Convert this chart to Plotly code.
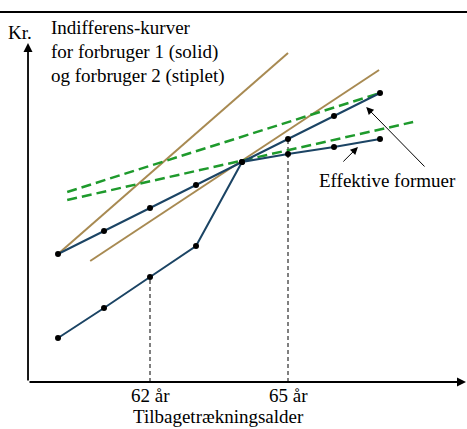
import plotly.graph_objects as go

# Data
ages = [60, 61, 62, 63, 64, 65, 66, 67]
forbruger1 = [12.8, 15.1, 17.4, 19.7, 22.0, 24.3, 26.6, 28.9]
forbruger2 = [4.4, 7.4, 10.5, 13.6, 22.0, 22.8, 23.5, 24.3]

# Indifference curves (solid, consumer 1)
indiff1_a_x = [60, 65]
indiff1_a_y = [12.8, 32.9]
indiff1_b_x = [60.7, 66.98]
indiff1_b_y = [12.1, 31.2]
# Indifference curves (dashed, consumer 2)
indiff2_a_x = [60.2, 67]
indiff2_a_y = [19.0, 28.9]
indiff2_b_x = [60.2, 67.72]
indiff2_b_y = [18.2, 26.0]

tick_ages = [62, 65]
tick_labels = ["62 år", "65 år"]
drop_values = [10.5, 24.3]

NAVY = "#1b4464"
TAN = "#a88a52"
GREEN = "#1e9a2c"
FONT = "Liberation Serif, Times New Roman, serif"

XMIN, XMAX = 58.739, 68.891
YMIN, YMAX = -4.7, 38.2
X0 = 59.348  # y-axis position
Y0 = 0.0     # x-axis position

fig = go.Figure()

# vertical dashed drop lines
for a, v in zip(tick_ages, drop_values):
    fig.add_trace(go.Scatter(x=[a, a], y=[Y0, v], mode="lines",
                             line=dict(color="black", width=1, dash="4px,3px"),
                             hoverinfo="skip", showlegend=False))

fig.add_trace(go.Scatter(x=indiff1_a_x, y=indiff1_a_y, mode="lines",
                         line=dict(color=TAN, width=2), showlegend=False))
fig.add_trace(go.Scatter(x=indiff1_b_x, y=indiff1_b_y, mode="lines",
                         line=dict(color=TAN, width=2), showlegend=False))
fig.add_trace(go.Scatter(x=indiff2_a_x, y=indiff2_a_y, mode="lines",
                         line=dict(color=GREEN, width=2.5, dash="10px,5px"), showlegend=False))
fig.add_trace(go.Scatter(x=indiff2_b_x, y=indiff2_b_y, mode="lines",
                         line=dict(color=GREEN, width=2.5, dash="10px,5px"), showlegend=False))

for s in (forbruger1, forbruger2):
    fig.add_trace(go.Scatter(x=ages, y=s, mode="lines+markers",
                             line=dict(color=NAVY, width=2),
                             marker=dict(color="black", size=6),
                             showlegend=False))

annotations = []
# axes arrows
annotations.append(dict(x=X0, y=33.9, ax=X0, ay=Y0, xref="x", yref="y", axref="x", ayref="y",
                        showarrow=True, arrowhead=2, arrowsize=1, arrowwidth=1.8, arrowcolor="black", text=""))
annotations.append(dict(x=68.87, y=Y0, ax=X0, ay=Y0, xref="x", yref="y", axref="x", ayref="y",
                        showarrow=True, arrowhead=2, arrowsize=1, arrowwidth=1.8, arrowcolor="black", text=""))
# Effektive formuer arrows
annotations.append(dict(x=66.70, y=27.5, ax=68.0, ay=21.4, xref="x", yref="y", axref="x", ayref="y",
                        showarrow=True, arrowhead=2, arrowsize=1.5, arrowwidth=1, arrowcolor="black", text=""))
annotations.append(dict(x=66.52, y=23.5, ax=66.17, ay=21.9, xref="x", yref="y", axref="x", ayref="y",
                        showarrow=True, arrowhead=2, arrowsize=1.5, arrowwidth=1, arrowcolor="black", text=""))

tf = dict(family=FONT, size=19, color="black")
annotations.append(dict(x=67.17, y=20.2, xref="x", yref="y", text="Effektive formuer",
                        showarrow=False, font=tf))
annotations.append(dict(x=59.17, y=35.0, xref="x", yref="y", text="Kr.",
                        showarrow=False, font=tf))
for i, t in enumerate(["Indifferens-kurver", "for forbruger 1 (solid)", "og forbruger 2 (stiplet)"]):
    annotations.append(dict(x=59.8, y=35.5 - i * 2.45, xref="x", yref="y", text=t,
                            showarrow=False, xanchor="left", font=tf))
for a, t in zip(tick_ages, tick_labels):
    annotations.append(dict(x=a, y=-1.3, xref="x", yref="y", text=t, showarrow=False, font=tf))
annotations.append(dict(x=63.48, y=-3.4, xref="x", yref="y", text="Tilbagetrækningsalder",
                        showarrow=False, font=tf))

fig.update_layout(
    width=467, height=429,
    margin=dict(l=0, r=0, t=0, b=0),
    paper_bgcolor="white", plot_bgcolor="white",
    xaxis=dict(range=[XMIN, XMAX], visible=False, fixedrange=True),
    yaxis=dict(range=[YMIN, YMAX], visible=False, fixedrange=True),
    annotations=annotations,
    shapes=[dict(type="line", xref="paper", yref="paper", x0=0, x1=1,
                 y0=1 - 12 / 429, y1=1 - 12 / 429, line=dict(color="black", width=2))],
)

fig.write_html("out.html", post_script="document.body.style.margin='0';",
               config={"displayModeBar": False})
